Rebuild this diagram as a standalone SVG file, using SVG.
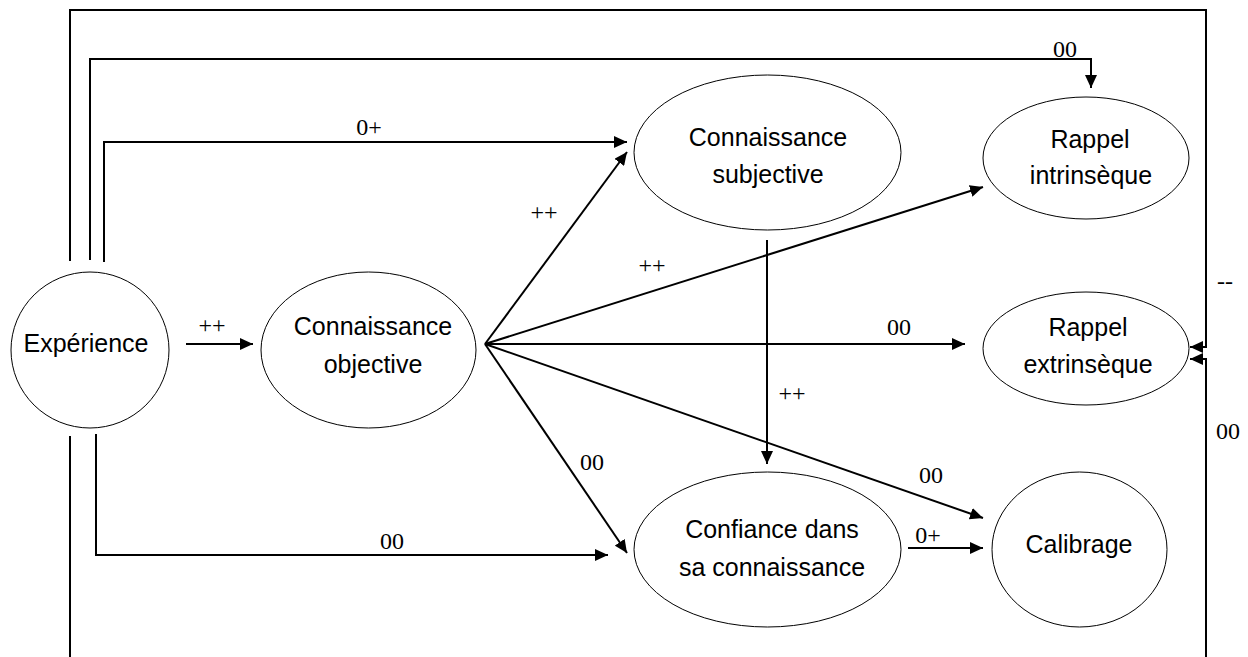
<svg xmlns="http://www.w3.org/2000/svg" width="1248" height="657" viewBox="0 0 1248 657">
  <style>
    .node { fill: #fff; stroke: #000; stroke-width: 1; }
    .name { font-family: "Liberation Sans", Arial, sans-serif; font-size: 25px; fill: #000; text-anchor: middle; }
    .link { fill: none; stroke: #000; stroke-width: 2; }
    .arrow { marker-end: url(#head); }
    .sign { font-family: "Liberation Serif", "Times New Roman", serif; font-size: 24px; fill: #000; text-anchor: middle; }
  </style>
  <defs>
    <marker id="head" markerUnits="userSpaceOnUse" markerWidth="13" markerHeight="12" refX="13" refY="6" orient="auto">
      <path d="M0,0 L13,6 L0,12 z" fill="#000"/>
    </marker>
  </defs>
  <rect width="1248" height="657" fill="#fff"/>

  <!-- connectors -->
  <g id="connectors">
    <!-- Expérience, routed round the top and bottom edges -->
    <path class="link arrow" d="M70,261 V10 H1206 V347 H1190"/>
    <path class="link arrow" d="M70,436 V680 H1206 V359 H1190"/>
    <path class="link arrow" d="M90,260 V59 H1091 V88"/>
    <path class="link arrow" d="M104,262 V142 H627"/>
    <path class="link arrow" d="M186,344 H253"/>
    <path class="link arrow" d="M96,434 V555 H608"/>
    <!-- fan out of Connaissance objective -->
    <path class="link arrow" d="M485,344 L627,152"/>
    <path class="link arrow" d="M485,344 L983,187"/>
    <path class="link arrow" d="M485,344 L965,344"/>
    <path class="link arrow" d="M485,344 L627,553"/>
    <path class="link arrow" d="M485,344 L983,518"/>
    <!-- subjective to confidence, confidence to calibration -->
    <path class="link arrow" d="M767,240 V464"/>
    <path class="link arrow" d="M908,548 H983"/>

    <text class="sign" x="1225" y="289">--</text>
    <text class="sign" x="1228" y="439">00</text>
    <text class="sign" x="1065" y="57">00</text>
    <text class="sign" x="369" y="135">0+</text>
    <text class="sign" x="212" y="333">++</text>
    <text class="sign" x="392" y="549">00</text>
    <text class="sign" x="544" y="220">++</text>
    <text class="sign" x="652" y="273">++</text>
    <text class="sign" x="899" y="335">00</text>
    <text class="sign" x="592" y="470">00</text>
    <text class="sign" x="931" y="483">00</text>
    <text class="sign" x="792" y="401">++</text>
    <text class="sign" x="928" y="543">0+</text>
  </g>

  <g id="experience">
    <ellipse class="node" cx="90" cy="350" rx="79" ry="78"/>
    <text class="name" x="86" y="352">Expérience</text>
  </g>

  <g id="connaissance-objective">
    <ellipse class="node" cx="368.5" cy="350" rx="107.5" ry="78"/>
    <text class="name" x="373" y="335">Connaissance</text>
    <text class="name" x="373" y="373">objective</text>
  </g>

  <g id="connaissance-subjective">
    <ellipse class="node" cx="767.5" cy="152.5" rx="133.5" ry="77.5"/>
    <text class="name" x="768" y="146">Connaissance</text>
    <text class="name" x="768" y="183">subjective</text>
  </g>

  <g id="rappel-intrinseque">
    <ellipse class="node" cx="1086" cy="158" rx="103" ry="61"/>
    <text class="name" x="1090" y="148">Rappel</text>
    <text class="name" x="1091" y="184">intrinsèque</text>
  </g>

  <g id="rappel-extrinseque">
    <ellipse class="node" cx="1086" cy="348.5" rx="103" ry="56.5"/>
    <text class="name" x="1088" y="336">Rappel</text>
    <text class="name" x="1088" y="373">extrinsèque</text>
  </g>

  <g id="confiance">
    <ellipse class="node" cx="767.5" cy="549.5" rx="133.5" ry="77.5"/>
    <text class="name" x="772" y="538">Confiance dans</text>
    <text class="name" x="772" y="576">sa connaissance</text>
  </g>

  <g id="calibrage">
    <ellipse class="node" cx="1079.5" cy="549.5" rx="87.5" ry="77.5"/>
    <text class="name" x="1079" y="553">Calibrage</text>
  </g>
</svg>
